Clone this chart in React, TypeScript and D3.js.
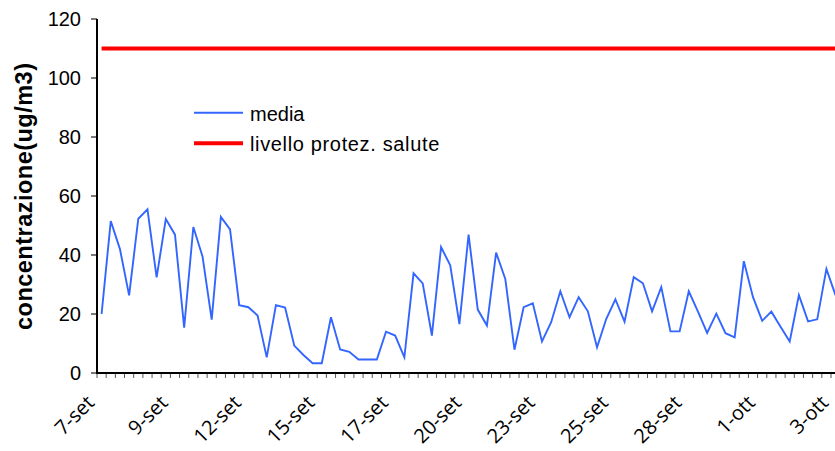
import React from "react";
import * as d3 from "d3";

const values: number[] = [
  20.0, 51.5, 42.0, 26.3, 52.3, 55.5, 32.4, 52.2, 46.9, 15.4,
  49.5, 39.5, 18.1, 52.9, 48.7, 23.0, 22.3, 19.5, 5.3, 23.0,
  22.2, 9.3, 6.1, 3.3, 3.3, 18.9, 8.0, 7.2, 4.6, 4.6,
  4.6, 14.0, 12.7, 5.3, 33.8, 30.4, 12.7, 42.7, 36.5, 16.6,
  46.9, 21.5, 16.1, 40.8, 31.9, 7.9, 22.3, 23.6, 10.7, 17.2,
  27.7, 18.9, 25.7, 20.9, 8.7, 18.3, 25.0, 17.4, 32.5, 30.4,
  20.9, 29.1, 14.1, 14.1, 27.7, 20.8, 13.6, 20.1, 13.5, 12.1,
  37.9, 25.7, 17.7, 20.8, 15.7, 10.7, 26.4, 17.5, 18.2, 35.3,
  26.3,
];
const limitValue = 110;
const tickLabels: string[] = [
  "7-set", "9-set", "12-set", "15-set", "17-set", "20-set",
  "23-set", "25-set", "28-set", "1-ott", "3-ott",
];
const labelEvery = 8;
const yTicks: number[] = [0, 20, 40, 60, 80, 100, 120];
const seriesNames: string[] = ["media", "livello protez. salute"];

export default function App() {
  const W = 835, H = 451;
  const left = 97, bottom = 373, top = 19;
  const step = 9.175;
  const n = values.length;
  const idx = d3.range(n);
  const x = d3.scaleBand<number>().domain(idx).range([left, left + n * step]).padding(0);
  const cx = (i: number) => (x(i) as number) + x.bandwidth() / 2;
  const y = d3.scaleLinear().domain([0, 120]).range([bottom, top]);
  const line = d3.line<number>().x((_, i) => cx(i)).y((d) => y(d));
  const limitLine = d3.line<number>().x((i) => cx(i)).y(() => y(limitValue));
  const bounds = d3.range(n + 1).map((k) => left + k * x.bandwidth());
  const sans = "'Liberation Sans', Arial, sans-serif";
  return (
    <svg width={W} height={H} style={{ position: "absolute", left: 0, top: 0, background: "#fff" }}>
      <rect x={0} y={0} width={W} height={H} fill="#fff" />
      {bounds.map((bx, k) => (
        <line key={k} x1={bx} x2={bx} y1={bottom} y2={bottom + 5} stroke="#555" strokeWidth={1} />
      ))}
      {yTicks.map((t) => (
        <g key={t}>
          <line x1={left - 6} x2={left} y1={y(t)} y2={y(t)} stroke="#222" strokeWidth={1.2} />
          <text x={81} y={y(t)} dy="0.36em" textAnchor="end" fontFamily={sans} fontSize={20} fill="#000">
            {t}
          </text>
        </g>
      ))}
      <line x1={left} x2={left} y1={top} y2={bottom + 1} stroke="#000" strokeWidth={2} />
      <line x1={left - 1} x2={W + 10} y1={bottom} y2={bottom} stroke="#000" strokeWidth={2} />
      <path d={limitLine([0, n - 1]) as string} stroke="#ff0000" strokeWidth={4} fill="none" />
      <path d={line(values) as string} stroke="#3366ff" strokeWidth={1.9} fill="none" strokeLinejoin="miter" />
      {tickLabels.map((lab, j) => {
        const i = j * labelEvery;
        const ax = cx(i) - 6;
        const ay = 404;
        return (
          <text key={lab} x={ax} y={ay} textAnchor="end" fontFamily="'Open Sans', 'DejaVu Sans', sans-serif"
            fontSize={20} fill="#000" transform={`rotate(-45 ${ax} ${ay})`}>
            {lab}
          </text>
        );
      })}
      <text x={32} y={196.5} textAnchor="middle" fontFamily={sans} fontWeight="bold" fontSize={23.5}
        textLength={267} lengthAdjust="spacing" transform="rotate(-90 32 196.5)" fill="#000">
        concentrazione(ug/m3)
      </text>
      <line x1={194} x2={243} y1={112.7} y2={112.7} stroke="#3366ff" strokeWidth={1.9} />
      <text x={250} y={120.5} fontFamily={sans} fontSize={20}>{seriesNames[0]}</text>
      <line x1={194} x2={243} y1={143.3} y2={143.3} stroke="#ff0000" strokeWidth={4} />
      <text x={250} y={151} fontFamily={sans} fontSize={20} letterSpacing={0.65}>{seriesNames[1]}</text>
    </svg>
  );
}
